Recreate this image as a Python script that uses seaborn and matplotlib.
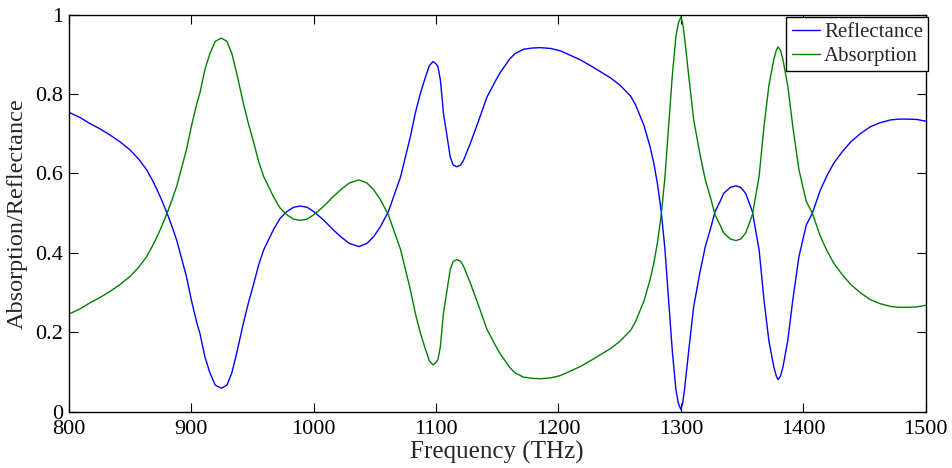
import matplotlib
matplotlib.use("Agg")
import matplotlib.pyplot as plt
import seaborn as sns
import pandas as pd
from matplotlib.ticker import FuncFormatter

# ---- data ----
freq_thz = [800, 809, 817, 825, 833.5, 842, 850, 857, 863.5, 869, 874.5, 880, 884, 888, 892,
            896, 900, 904.5, 907, 911, 915, 919.5, 924.5, 929, 933, 937, 942.5, 946.5, 951,
            955, 959, 967, 972.5, 978, 983.5, 989, 994.5, 1000, 1008, 1016, 1022, 1029, 1037,
            1043.5, 1049, 1054.5, 1061, 1071, 1075, 1079, 1083, 1087, 1091, 1094.5, 1097.5,
            1100, 1101.5, 1103.5, 1106, 1109, 1111.5, 1114, 1117, 1120, 1122.5, 1128, 1135,
            1141.5, 1148.5, 1152.5, 1156, 1160, 1164.5, 1171.5, 1178.5, 1185, 1193.5, 1201.5,
            1209.5, 1218, 1226, 1234.5, 1242.5, 1250.5, 1254.5, 1259, 1263, 1267, 1270,
            1272.5, 1275, 1278, 1281, 1284, 1287, 1290, 1293, 1296, 1298, 1300, 1301.5, 1303,
            1306.5, 1310.5, 1315.5, 1320, 1324, 1328, 1332, 1335, 1340.5, 1345, 1349, 1353,
            1355.5, 1358.5, 1364, 1368, 1372, 1376, 1378, 1379.5, 1381.5, 1383.5, 1387.5,
            1391.5, 1396.5, 1402.5, 1407.5, 1414, 1419.5, 1425, 1432, 1439, 1447, 1455, 1463,
            1471.5, 1478, 1485, 1493, 1500]

reflectance = [0.754, 0.741, 0.726, 0.713, 0.697, 0.679, 0.659, 0.636, 0.609, 0.578, 0.542,
               0.501, 0.468, 0.432, 0.386, 0.340, 0.281, 0.223, 0.197, 0.139, 0.099, 0.067,
               0.059, 0.067, 0.097, 0.147, 0.223, 0.273, 0.323, 0.370, 0.407, 0.458, 0.487,
               0.504, 0.515, 0.518, 0.515, 0.504, 0.483, 0.458, 0.441, 0.424, 0.416, 0.424,
               0.441, 0.466, 0.504, 0.592, 0.642, 0.693, 0.752, 0.800, 0.840, 0.872, 0.882,
               0.876, 0.869, 0.836, 0.752, 0.693, 0.642, 0.621, 0.617, 0.621, 0.634, 0.676,
               0.735, 0.792, 0.833, 0.855, 0.870, 0.888, 0.902, 0.913, 0.916, 0.917, 0.915,
               0.909, 0.898, 0.886, 0.872, 0.856, 0.841, 0.822, 0.809, 0.795, 0.773, 0.743,
               0.720, 0.693, 0.666, 0.625, 0.572, 0.504, 0.410, 0.281, 0.155, 0.055, 0.021,
               0.006, 0.021, 0.055, 0.155, 0.264, 0.349, 0.416, 0.458, 0.504, 0.529, 0.550,
               0.565, 0.569, 0.565, 0.550, 0.529, 0.504, 0.407, 0.281, 0.178, 0.113, 0.090,
               0.081, 0.090, 0.113, 0.181, 0.281, 0.390, 0.470, 0.500, 0.558, 0.595, 0.626,
               0.655, 0.680, 0.701, 0.718, 0.728, 0.735, 0.737, 0.737, 0.736, 0.732]

absorption = [0.246, 0.259, 0.274, 0.287, 0.303, 0.321, 0.341, 0.364, 0.391, 0.422, 0.458,
              0.499, 0.532, 0.568, 0.614, 0.660, 0.719, 0.777, 0.803, 0.861, 0.901, 0.933,
              0.941, 0.933, 0.903, 0.853, 0.777, 0.727, 0.677, 0.630, 0.593, 0.542, 0.513,
              0.496, 0.485, 0.482, 0.485, 0.496, 0.517, 0.542, 0.559, 0.576, 0.584, 0.576,
              0.559, 0.534, 0.496, 0.408, 0.358, 0.307, 0.248, 0.200, 0.160, 0.128, 0.118,
              0.124, 0.131, 0.164, 0.248, 0.307, 0.358, 0.379, 0.383, 0.379, 0.366, 0.324,
              0.265, 0.208, 0.167, 0.145, 0.130, 0.112, 0.098, 0.087, 0.084, 0.083, 0.085,
              0.091, 0.102, 0.114, 0.128, 0.144, 0.159, 0.178, 0.191, 0.205, 0.227, 0.257,
              0.280, 0.307, 0.334, 0.375, 0.428, 0.496, 0.590, 0.719, 0.845, 0.945, 0.979,
              0.994, 0.979, 0.945, 0.845, 0.736, 0.651, 0.584, 0.542, 0.496, 0.471, 0.450,
              0.435, 0.431, 0.435, 0.450, 0.471, 0.496, 0.593, 0.719, 0.822, 0.887, 0.910,
              0.919, 0.910, 0.887, 0.819, 0.719, 0.610, 0.530, 0.500, 0.442, 0.405, 0.374,
              0.345, 0.320, 0.299, 0.282, 0.272, 0.265, 0.263, 0.263, 0.264, 0.268]

x_ticks = [800, 900, 1000, 1100, 1200, 1300, 1400, 1500]
y_ticks = [0, 0.2, 0.4, 0.6, 0.8, 1]

df = pd.DataFrame({"freq": freq_thz, "Reflectance": reflectance, "Absorption": absorption})

sns.set_style("ticks")
plt.rcParams["font.family"] = ["Liberation Serif", "DejaVu Serif"]

fig = plt.figure(figsize=(9.52, 4.68), dpi=100)
ax = fig.add_axes([0.0725, 0.1203, 0.8997, 0.8483])

sns.lineplot(data=df, x="freq", y="Reflectance", ax=ax, color=(0, 0, 1), lw=1.0,
             label="Reflectance", estimator=None, sort=False)
sns.lineplot(data=df, x="freq", y="Absorption", ax=ax, color=(0, 0.5, 0), lw=1.0,
             label="Absorption", estimator=None, sort=False)

ax.set_xlim(800, 1500)
ax.set_ylim(0, 1)
ax.set_xticks(x_ticks)
ax.set_yticks(y_ticks)
ax.yaxis.set_major_formatter(FuncFormatter(lambda v, p: "%g" % v))
ax.tick_params(direction="in", length=6.5, width=0.8, top=True, right=True,
               labelsize=16, colors="black", pad=4)
ax.tick_params(axis="x", pad=6)
for s in ax.spines.values():
    s.set_visible(True)
    s.set_linewidth(1.0)
    s.set_color("black")

ax.set_xlabel("Frequency (THz)", fontsize=18)
ax.set_ylabel("Absorption/Reflectance", fontsize=17.5)
ax.xaxis.set_label_coords(0.5, -0.074)
ax.yaxis.set_label_coords(-0.048, 0.5)

leg = ax.legend(loc="upper right", bbox_to_anchor=(1.003, 0.993), fontsize=15,
                frameon=True, fancybox=False, framealpha=1, edgecolor="black",
                borderaxespad=0, borderpad=0.25, labelspacing=0.2,
                handlelength=1.35, handletextpad=0.2)
leg.get_frame().set_linewidth(1.0)

fig.savefig("out.png", dpi=100)
